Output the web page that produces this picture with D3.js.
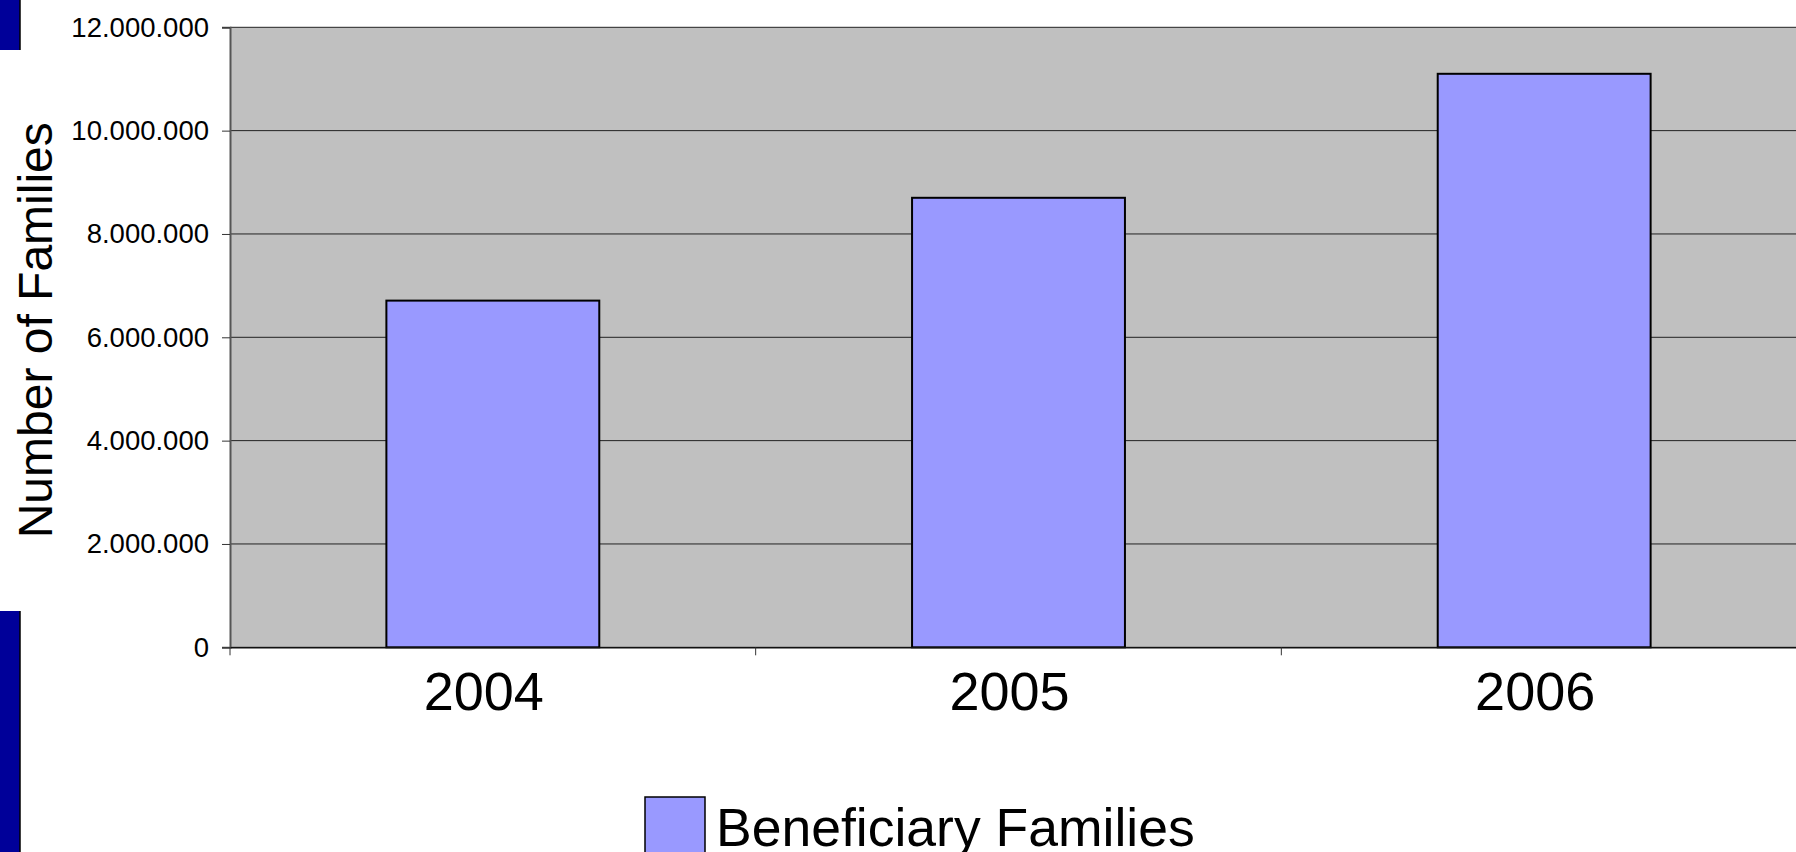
<!DOCTYPE html>
<html>
<head>
<meta charset="utf-8">
<script src="https://cdn.jsdelivr.net/npm/d3@7"></script>
<style>
html,body{margin:0;padding:0;background:#fff;overflow:hidden;}
svg{display:block;font-family:"Liberation Sans",Arial,sans-serif;}
</style>
</head>
<body>
<svg id="chart" width="1796" height="852"></svg>
<script>
const categories = ["2004", "2005", "2006"];
const values = [6710000, 8700000, 11100000];
const seriesName = "Beneficiary Families";
const yTicks = [0, 2000000, 4000000, 6000000, 8000000, 10000000, 12000000];
const yTitle = "Number of Families";

(function () {
const svg = d3.select("#chart");
const W = 1796, H = 852;
const pLeft = 230, pRight = 1807, pTop = 27.3, pBottom = 647.3;

// decorative slide bars on left
svg.append("rect").attr("x", 0).attr("y", 0).attr("width", 20).attr("height", 50).attr("fill", "#000099");
svg.append("line").attr("x1", 20).attr("x2", 20).attr("y1", 0).attr("y2", 50).attr("stroke", "#000").attr("stroke-width", 1.5);
svg.append("rect").attr("x", 0).attr("y", 611).attr("width", 20).attr("height", H - 611).attr("fill", "#000099");
svg.append("line").attr("x1", 20).attr("x2", 20).attr("y1", 611).attr("y2", H).attr("stroke", "#000").attr("stroke-width", 1.5);

const x = d3.scaleBand().domain(categories).range([pLeft, pRight]).paddingInner(0).paddingOuter(0);
const y = d3.scaleLinear().domain([0, 12000000]).range([pBottom, pTop]);

const loc = d3.formatLocale({decimal: ",", thousands: ".", grouping: [3], currency: ["", ""]});
const fmt = loc.format(",");

// plot background
svg.append("rect").attr("x", pLeft).attr("y", pTop).attr("width", pRight - pLeft).attr("height", pBottom - pTop).attr("fill", "#C0C0C0");

// gridlines
svg.append("g").selectAll("line").data(yTicks).join("line")
  .attr("x1", pLeft).attr("x2", pRight)
  .attr("y1", d => y(d)).attr("y2", d => y(d))
  .attr("stroke", "#222").attr("stroke-width", 1);

// bars
const bw = x.bandwidth() * 0.405;
svg.append("g").selectAll("rect").data(values).join("rect")
  .attr("x", (d, i) => x(categories[i]) + x.bandwidth() / 2 - bw / 2)
  .attr("y", d => y(d))
  .attr("width", bw)
  .attr("height", d => y(0) - y(d))
  .attr("fill", "#9999FF")
  .attr("stroke", "#000").attr("stroke-width", 2);

// y axis
const yAxis = d3.axisLeft(y).tickValues(yTicks).tickFormat(fmt).tickSize(8).tickPadding(13);
const gy = svg.append("g").attr("transform", `translate(${pLeft},0)`).call(yAxis);
gy.select(".domain").attr("stroke", "#555").attr("stroke-width", 2);
gy.selectAll(".tick line").attr("stroke", "#333");
gy.selectAll(".tick text").attr("font-size", 27.5).attr("fill", "#000")
  .attr("font-family", "'Liberation Sans',Arial,sans-serif").attr("dy", "0.32em");

// x axis
const xAxis = d3.axisBottom(x).tickSize(0).tickFormat(d => d);
const gx = svg.append("g").attr("transform", `translate(0,${pBottom})`).call(xAxis);
gx.select(".domain").attr("stroke", "#111").attr("stroke-width", 1.5);
gx.selectAll(".tick text").attr("font-size", 54).attr("fill", "#000")
  .attr("font-family", "'Liberation Sans',Arial,sans-serif")
  .attr("dy", 0).attr("y", 63).attr("dx", -9);
// category boundary ticks
const bounds = categories.map(c => x(c));
svg.append("g").selectAll("line").data(bounds).join("line")
  .attr("x1", d => d).attr("x2", d => d)
  .attr("y1", pBottom).attr("y2", pBottom + 8)
  .attr("stroke", "#333").attr("stroke-width", 1);

// y title
svg.append("text")
  .attr("transform", `translate(52,${(pTop + pBottom) / 2 - 7}) rotate(-90)`)
  .attr("text-anchor", "middle")
  .attr("font-size", 48).attr("fill", "#000")
  .text(yTitle);

// legend
const lg = svg.append("g");
lg.append("rect").attr("x", 645).attr("y", 797).attr("width", 60).attr("height", 70)
  .attr("fill", "#9999FF").attr("stroke", "#000").attr("stroke-width", 1.5);
lg.append("text").attr("x", 716).attr("y", 846).attr("font-size", 53.5).attr("fill", "#000").text(seriesName);
})();
</script>
</body>
</html>
